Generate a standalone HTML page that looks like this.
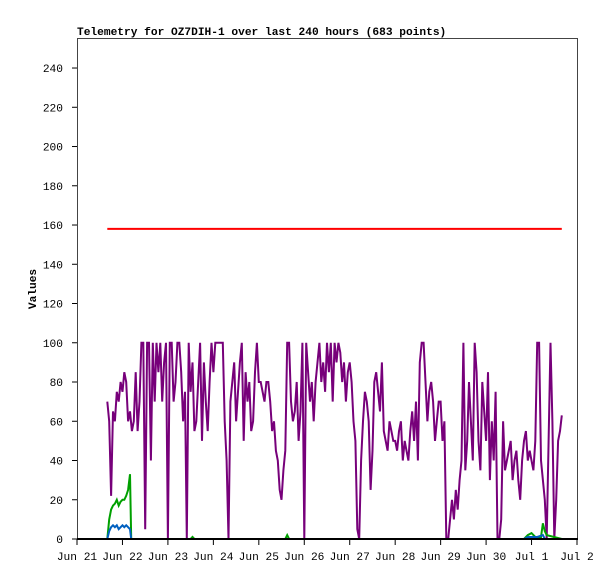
<!DOCTYPE html>
<html><head><meta charset="utf-8"><style>
body{margin:0;background:#fff}
svg text{font-family:"Liberation Mono",monospace;font-size:11.2px;fill:#000}
</style></head><body>
<svg id="chart" width="615" height="579" xmlns="http://www.w3.org/2000/svg">
<rect x="0" y="0" width="615" height="579" fill="#fff"/>
<text x="77" y="35" font-weight="bold">Telemetry for OZ7DIH-1 over last 240 hours (683 points)</text>
<text transform="translate(36,289) rotate(-90)" text-anchor="middle" font-weight="bold">Values</text>
<rect x="77.5" y="38.5" width="500" height="500" fill="none" stroke="#444" stroke-width="1"/>
<g id="series"></g><g id="axes"></g>
</svg>
<script>
const yTicks=[0,20,40,60,80,100,120,140,160,180,200,220,240];
const xTickLabels=["Jun 21","Jun 22","Jun 23","Jun 24","Jun 25","Jun 26","Jun 27","Jun 28","Jun 29","Jun 30","Jul 1","Jul 2"];
const purpleStart=16, purpleStep=1;
const purpleValues=[70,60,22,65,60,75,70,80,
75,85,80,60,65,55,60,85,55,70,100,100,5,100,100,40,100,70,100,85,100,70,90,100,
0,100,100,70,80,100,100,85,60,75,0,100,75,90,55,60,80,100,50,90,70,55,80,100,
85,100,100,100,100,100,60,40,0,70,80,90,60,75,90,100,50,85,70,80,55,60,85,100,
80,80,75,70,80,80,70,55,60,45,40,25,20,35,45,100,100,70,60,65,80,50,65,100,
0,100,85,70,80,60,80,90,100,80,90,75,100,85,100,70,100,90,100,95,80,90,70,85,
90,80,60,50,5,0,40,60,75,70,60,25,45,80,85,75,65,90,55,50,45,60,55,50,
50,45,55,60,40,50,45,40,55,65,50,70,40,90,100,100,80,60,75,80,70,50,60,70,
70,50,60,0,0,10,20,10,25,15,30,40,100,35,50,80,60,40,100,85,50,35,80,65,
50,85,30,60,40,75,0,0,10,60,35,40,45,50,30,40,45,30,20,40,50,55,40,45,
40,35,50,100,100,40,30,20,0,50,100,60,0,20,50,55,63];
const redHours=[16,256];
const redValues=[158,158];
const greenHours=[16,17,18,19,20,21,22,23,24,25,26,27,28,28.6,29,60,61,62,100,110,111,112,140,160,236,238,240,242,243,245,246,247,248,256];
const greenValues=[0,10,15,17,18,20,17,19,20,20,22,25,33,0,0,0,1,0,0,0,2,0,0,0,0,2,3,1,1,1,8,4,2,0];
const blueHours=[16,17,18,19,20,21,22,23,24,25,26,27,28,28.6,29,236,238,243,246,247,256];
const blueValues=[0,4,6,7,6,7,5,6,7,6,7,6,5,0,0,0,1,1,2,0,0];
const X0=77,X1=577,Y0=539,Y1=38;
function xs(h){return X0+(X1-X0)*h/264;}
function ys(v){return Y0-(Y0-Y1)*v/255.3;}
const NS="http://www.w3.org/2000/svg";
const axes=document.getElementById('axes'),ser=document.getElementById('series');
function mk(t,a){const e=document.createElementNS(NS,t);for(const k in a)e.setAttribute(k,a[k]);return e;}
yTicks.forEach(v=>{
 const l=mk('line',{x1:72,x2:77,y1:ys(v),y2:ys(v),stroke:'#000'});
 
 
 axes.appendChild(l);
 const t=mk('text',{x:63,y:ys(v)+4,'text-anchor':'end'});t.textContent=v;
 
 
 axes.appendChild(t);
});
xTickLabels.forEach((s,i)=>{
 const x=xs(i*24);
 const l=mk('line',{x1:x,x2:x,y1:539,y2:545,stroke:'#000'});
 
 
 axes.appendChild(l);
 const t=mk('text',{x:x,y:560,'text-anchor':'middle'});t.textContent=s;
 
 
 axes.appendChild(t);
});
function line(hours,vals,color,name){
 const p=hours.map((h,i)=>xs(h).toFixed(1)+','+ys(vals[i]).toFixed(1)).join(' ');
 const e=mk('polyline',{points:p,fill:'none',stroke:color,'stroke-width':2});
 
 
 ser.appendChild(e);
}
const purpleHours=purpleValues.map((v,i)=>purpleStart+i*purpleStep);
line(purpleHours,purpleValues,'#77007a','series-purple');
line(greenHours,greenValues,'#00a000','series-green');
line(blueHours,blueValues,'#0060c0','series-blue');
line(redHours,redValues,'#ff0000','series-red');
const base=mk('line',{x1:77,x2:578,y1:539,y2:539,stroke:'#000','stroke-width':2});


axes.appendChild(base);
</script>
</body></html>
